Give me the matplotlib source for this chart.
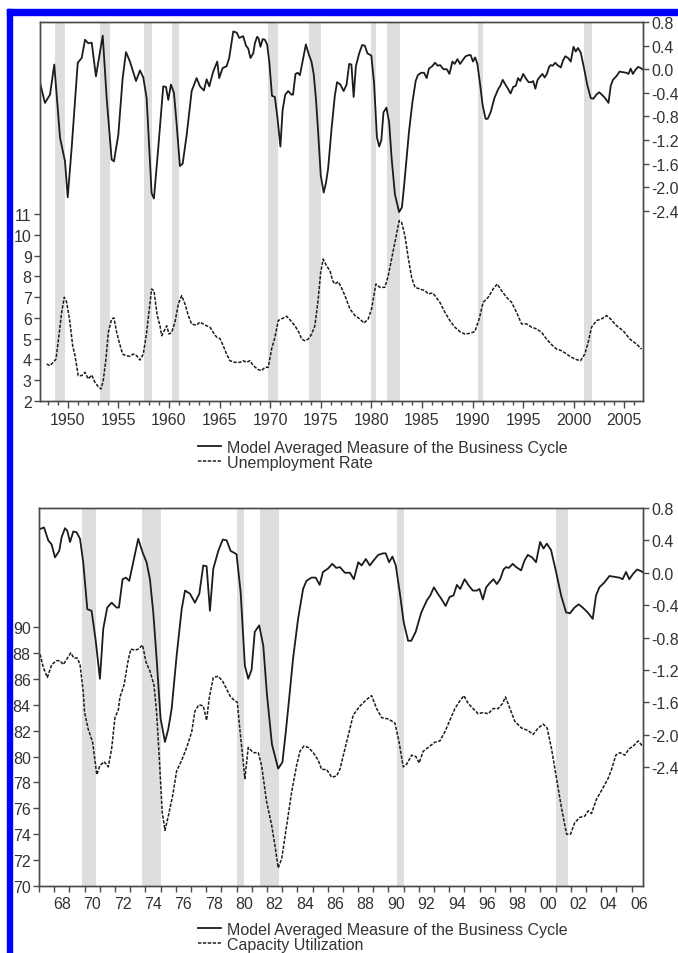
import numpy as np
import matplotlib
matplotlib.use('Agg')
import matplotlib.pyplot as plt
from matplotlib.ticker import FixedLocator, FuncFormatter
from matplotlib.patches import Rectangle

plt.rcParams['font.family'] = ['Liberation Sans', 'DejaVu Sans']
plt.rcParams['axes.unicode_minus'] = False

# recession bands (start, end) in years
rec_start = [1948.75, 1953.2, 1957.5, 1960.25, 1969.8, 1973.8, 1980.0, 1981.55, 1990.55, 2001.05]
rec_end = [1949.75, 1954.2, 1958.3, 1961.0, 1970.75, 1975.0, 1980.5, 1982.8, 1991.05, 2001.8]

# model averaged measure of the business cycle
bc_years = [1947.25, 1947.74, 1948.24, 1948.66, 1949.23, 1949.72, 1949.99, 1950.38, 1950.98, 1951.37,
            1951.70, 1952.02, 1952.36, 1952.78, 1953.08, 1953.45, 1953.84, 1954.33, 1954.56, 1954.99,
            1955.42, 1955.75, 1956.14, 1956.74, 1957.13, 1957.46, 1957.79, 1958.28, 1958.51, 1958.94,
            1959.43, 1959.70, 1959.93, 1960.19, 1960.49, 1960.76, 1961.08, 1961.35, 1961.75, 1962.24,
            1962.73, 1963.06, 1963.45, 1963.72, 1963.98, 1964.37, 1964.77, 1964.96, 1965.30, 1965.69,
            1965.95, 1966.35, 1966.69, 1966.94,
            1967.07, 1967.33, 1967.61, 1967.83, 1968.05, 1968.33, 1968.49, 1968.71, 1968.86, 1969.04,
            1969.26, 1969.47, 1969.70, 1969.91, 1970.18, 1970.46, 1970.72, 1971.01, 1971.23, 1971.49,
            1971.78, 1972.11, 1972.26, 1972.50, 1972.72, 1972.94, 1973.20, 1973.53, 1973.82, 1974.08,
            1974.30, 1974.52, 1974.74, 1975.00, 1975.29, 1975.51, 1975.73, 1976.06, 1976.39, 1976.61,
            1976.94, 1977.26, 1977.55, 1977.81, 1978.03, 1978.25, 1978.47, 1978.80, 1979.09, 1979.35,
            1979.61, 1980.00, 1980.27, 1980.55, 1980.77, 1980.99, 1981.20, 1981.49, 1981.76, 1982.00,
            1982.33, 1982.74, 1983.02, 1983.24, 1983.46, 1983.72, 1984.05, 1984.38, 1984.60, 1984.93,
            1985.21, 1985.47, 1985.69, 1986.01, 1986.30, 1986.56, 1986.80,
            1987.13, 1987.46, 1987.72, 1988.01, 1988.23, 1988.51, 1988.77, 1989.10, 1989.32, 1989.65,
            1989.82, 1990.04, 1990.26, 1990.48, 1990.74, 1991.00, 1991.29, 1991.50, 1991.79, 1992.16,
            1992.53, 1992.75, 1992.99, 1993.25, 1993.47, 1993.76, 1994.02, 1994.28, 1994.50, 1994.72,
            1995.01, 1995.29, 1995.55, 1995.82, 1995.99, 1996.21, 1996.43, 1996.65, 1996.91, 1997.13,
            1997.35, 1997.57, 1997.74, 1997.92, 1998.18, 1998.40, 1998.73, 1998.95, 1999.17, 1999.45,
            1999.71, 1999.98, 2000.20, 2000.42, 2000.70, 2001.03, 2001.36, 2001.69, 2001.95, 2002.24,
            2002.52, 2002.78, 2003.11, 2003.44, 2003.66, 2003.88, 2004.21, 2004.54, 2004.86, 2005.19,
            2005.41, 2005.63, 2005.85, 2006.07, 2006.36, 2006.62, 2006.80]
bc_values = [-0.23, -0.57, -0.43, 0.08, -1.16, -1.56, -2.17, -1.33, 0.11, 0.19,
             0.50, 0.44, 0.45, -0.12, 0.19, 0.57, -0.49, -1.53, -1.56, -1.11,
             -0.15, 0.29, 0.13, -0.20, -0.02, -0.14, -0.49, -2.10, -2.19, -1.33,
             -0.29, -0.30, -0.52, -0.26, -0.40, -0.94, -1.64, -1.60, -1.11, -0.37,
             -0.15, -0.29, -0.36, -0.17, -0.29, -0.04, 0.13, -0.15, 0.02, 0.05,
             0.19, 0.64, 0.62, 0.53,
             0.54, 0.56, 0.40, 0.35, 0.19, 0.27, 0.44, 0.55, 0.52, 0.38,
             0.51, 0.50, 0.42, 0.13, -0.45, -0.47, -0.82, -1.31, -0.69, -0.43,
             -0.37, -0.43, -0.43, -0.08, -0.06, -0.10, 0.13, 0.42, 0.25, 0.13,
             -0.08, -0.49, -1.06, -1.80, -2.09, -1.93, -1.68, -1.02, -0.45, -0.22,
             -0.26, -0.37, -0.26, 0.09, 0.08, -0.47, 0.05, 0.27, 0.41, 0.40,
             0.27, 0.23, -0.24, -1.15, -1.31, -1.20, -0.73, -0.65, -0.90, -1.50,
             -2.12, -2.42, -2.34, -1.97, -1.56, -1.06, -0.57, -0.20, -0.10, -0.06,
             -0.06, -0.15, 0.01, 0.05, 0.11, 0.06, 0.07,
             0.00, 0.00, -0.08, 0.13, 0.09, 0.17, 0.09, 0.17, 0.22, 0.24,
             0.24, 0.13, 0.20, 0.09, -0.24, -0.61, -0.84, -0.84, -0.73, -0.49,
             -0.34, -0.28, -0.18, -0.26, -0.32, -0.41, -0.30, -0.28, -0.15, -0.20,
             -0.08, -0.16, -0.22, -0.22, -0.20, -0.33, -0.18, -0.13, -0.08, -0.14,
             -0.08, 0.04, 0.07, 0.06, 0.11, 0.07, 0.03, 0.15, 0.22, 0.19,
             0.13, 0.38, 0.30, 0.36, 0.28, 0.01, -0.28, -0.49, -0.50, -0.43,
             -0.39, -0.43, -0.49, -0.57, -0.28, -0.18, -0.12, -0.04, -0.05, -0.06,
             -0.08, 0.01, -0.08, -0.02, 0.04, 0.02, 0.00]

# unemployment rate
ue_years = [1947.91, 1948.24, 1948.56, 1948.83, 1949.16, 1949.39, 1949.65, 1949.89, 1950.21, 1950.48,
            1950.71, 1951.03, 1951.37, 1951.70, 1952.02, 1952.36, 1952.68, 1953.01, 1953.28, 1953.50,
            1953.77, 1954.00, 1954.33, 1954.56, 1954.83, 1955.08, 1955.42, 1955.75, 1956.14, 1956.47,
            1956.80, 1957.13, 1957.46, 1957.79, 1958.05, 1958.28, 1958.51, 1958.84, 1959.11, 1959.28,
            1959.53, 1959.77, 1960.00, 1960.26, 1960.59, 1960.92, 1961.25, 1961.58, 1961.91, 1962.24,
            1962.73, 1963.06, 1963.40, 1963.72, 1964.05, 1964.37, 1964.71, 1965.04, 1965.36, 1965.69,
            1966.02, 1966.52, 1967.01, 1967.34, 1967.67, 1968.00, 1968.33, 1968.82, 1969.15, 1969.48,
            1969.81, 1970.14, 1970.47, 1970.80, 1971.23, 1971.63, 1972.02, 1972.45, 1972.84, 1973.11,
            1973.43, 1973.76, 1974.10, 1974.42, 1974.75, 1974.99, 1975.24, 1975.58, 1975.91, 1976.17,
            1976.40, 1976.73, 1977.00, 1977.39, 1977.88, 1978.38, 1978.87, 1979.27, 1979.69, 1980.02,
            1980.45, 1980.85, 1981.34, 1981.67, 1982.00, 1982.33, 1982.75, 1982.99, 1983.32, 1983.64,
            1983.98, 1984.31, 1984.80, 1985.30, 1985.62, 1986.05, 1986.28, 1986.77, 1987.27, 1987.76,
            1988.26, 1988.75, 1989.25, 1989.74, 1990.23, 1990.66, 1991.05, 1991.55, 1992.04, 1992.44,
            1992.87, 1993.36, 1993.86, 1994.35, 1994.85, 1995.34, 1995.84, 1996.33, 1996.83, 1997.32,
            1997.82, 1998.31, 1998.80, 1999.30, 1999.79, 2000.28, 2000.68, 2001.10, 2001.43, 2001.76,
            2002.26, 2002.75, 2003.25, 2003.64, 2004.24, 2004.89, 2005.55, 2006.21, 2006.71]
ue_values = [3.78, 3.70, 3.86, 4.02, 5.30, 6.27, 6.99, 6.75, 5.79, 4.66,
             4.18, 3.22, 3.22, 3.38, 3.06, 3.25, 2.90, 2.69, 2.58, 2.98,
             4.02, 5.30, 5.95, 6.00, 5.30, 4.82, 4.26, 4.18, 4.15, 4.26,
             4.18, 3.97, 4.26, 5.30, 6.43, 7.39, 7.31, 6.11, 5.62, 5.14,
             5.38, 5.62, 5.22, 5.30, 5.79, 6.67, 7.07, 6.67, 6.11, 5.70,
             5.65, 5.80, 5.70, 5.62, 5.55, 5.30, 5.07, 5.00, 4.66, 4.26,
             3.94, 3.86, 3.86, 3.94, 3.86, 3.94, 3.70, 3.51, 3.46, 3.62,
             3.62, 4.50, 5.07, 5.87, 5.98, 6.08, 5.87, 5.62, 5.30, 4.98,
             4.90, 4.98, 5.22, 5.62, 6.91, 8.19, 8.83, 8.50, 8.27, 7.79,
             7.63, 7.74, 7.50, 7.07, 6.43, 6.11, 5.95, 5.75, 5.95, 6.43,
             7.63, 7.47, 7.47, 8.03, 8.83, 9.64, 10.68, 10.60, 9.95, 8.91,
             7.95, 7.47, 7.39, 7.31, 7.15, 7.20, 7.07, 6.75, 6.27, 5.87,
             5.55, 5.34, 5.22, 5.26, 5.34, 5.95, 6.75, 6.99, 7.39, 7.63,
             7.31, 6.99, 6.75, 6.27, 5.71, 5.71, 5.55, 5.47, 5.30, 4.98,
             4.71, 4.50, 4.42, 4.26, 4.10, 3.99, 3.94, 4.26, 4.82, 5.55,
             5.87, 5.95, 6.11, 5.95, 5.62, 5.38, 4.98, 4.74, 4.50]

# capacity utilization
cu_years = [1967.07, 1967.28, 1967.55, 1967.84, 1968.16, 1968.38, 1968.60, 1968.82, 1969.09, 1969.30,
            1969.52, 1969.70, 1969.91, 1970.00, 1970.24, 1970.53, 1970.80, 1971.01, 1971.28, 1971.56,
            1971.78, 1972.00, 1972.22, 1972.33, 1972.59, 1972.88, 1973.05, 1973.32, 1973.53, 1973.82,
            1974.04, 1974.30, 1974.57, 1974.74, 1974.92, 1975.11, 1975.29, 1975.51, 1975.80, 1976.06,
            1976.39, 1976.72, 1977.05, 1977.26, 1977.53, 1977.81, 1978.03, 1978.20, 1978.47, 1978.80,
            1979.09, 1979.35, 1979.61, 1979.89, 1980.05, 1980.22, 1980.55, 1980.77, 1981.10, 1981.43,
            1981.65, 1981.98, 1982.31, 1982.53, 1982.74, 1982.97, 1983.30, 1983.62, 1983.95, 1984.17,
            1984.43, 1984.72, 1985.05, 1985.38, 1985.60, 1985.93, 1986.26, 1986.59, 1986.80, 1987.24,
            1987.68, 1988.12, 1988.56, 1988.89, 1989.22, 1989.55, 1989.98, 1990.42, 1990.70, 1990.97,
            1991.19, 1991.52, 1991.80, 1992.02, 1992.28, 1992.61, 1993.05, 1993.38, 1993.71, 1994.04,
            1994.37, 1994.70, 1994.96, 1995.24, 1995.57, 1995.90, 1996.23, 1996.56, 1996.89, 1997.22,
            1997.51, 1997.70, 1997.99, 1998.32, 1998.76, 1999.19, 1999.52, 1999.85, 2000.18, 2000.44,
            2000.73, 2001.06, 2001.39, 2001.72, 2001.98, 2002.26, 2002.59, 2002.92, 2003.14, 2003.36,
            2003.69, 2004.13, 2004.45, 2004.68, 2004.96, 2005.22, 2005.55, 2005.84, 2006.10, 2006.43,
            2006.72]
cu_values = [87.9, 86.9, 86.1, 87.1, 87.4, 87.4, 87.1, 87.5, 88.0, 87.6,
             87.6, 87.1, 85.0, 83.4, 82.1, 81.1, 78.6, 79.3, 79.6, 79.2,
             80.6, 83.0, 83.6, 84.6, 85.5, 87.5, 88.3, 88.2, 88.3, 88.6,
             87.3, 86.6, 85.5, 83.4, 79.8, 75.7, 74.3, 75.4, 77.0, 78.9,
             79.7, 80.7, 81.9, 83.5, 84.0, 83.9, 82.8, 84.5, 86.1, 86.2,
             85.8, 85.2, 84.6, 84.3, 84.2, 82.1, 78.3, 80.7, 80.3, 80.3,
             79.3, 76.5, 74.7, 73.1, 71.4, 72.1, 74.7, 77.2, 79.3, 80.4,
             80.8, 80.7, 80.3, 79.7, 79.0, 79.0, 78.4, 78.5, 79.0, 81.1,
             83.2, 83.9, 84.4, 84.7, 83.7, 83.0, 82.9, 82.6, 81.1, 79.2,
             79.4, 80.1, 80.0, 79.5, 80.4, 80.7, 81.1, 81.2, 81.9, 82.8,
             83.7, 84.3, 84.7, 84.1, 83.7, 83.3, 83.4, 83.3, 83.7, 83.7,
             84.1, 84.6, 83.7, 82.7, 82.2, 82.0, 81.7, 82.2, 82.5, 82.2,
             80.6, 78.3, 76.0, 74.0, 74.0, 74.9, 75.3, 75.4, 75.8, 75.6,
             76.7, 77.6, 78.3, 79.0, 80.1, 80.3, 80.1, 80.6, 80.8, 81.2,
             80.8]

bc_label = 'Model Averaged Measure of the Business Cycle'
ue_label = 'Unemployment Rate'
cu_label = 'Capacity Utilization'

top_xticks = [1950, 1955, 1960, 1965, 1970, 1975, 1980, 1985, 1990, 1995, 2000, 2005]
bot_xlabels_years = list(range(1968, 2007, 2))
ue_ticks = list(range(2, 12))
cu_ticks = list(range(70, 91, 2))
bc_ticks = [0.8, 0.4, 0.0, -0.4, -0.8, -1.2, -1.6, -2.0, -2.4]

LINE = '#1c1c1c'
SPINE = '#4a4a4a'
TXT = '#333333'
SHADE = '#dedede'
FS = 11.5

fig = plt.figure(figsize=(6.78, 9.54), dpi=100)

# blue frame of the scanned page
fig.patches.append(Rectangle((7/678, 0), 5/678, 1 - 10/954, transform=fig.transFigure,
                             color='#0000ff', zorder=0))
fig.patches.append(Rectangle((7/678, 1 - 16/954), 1, 6/954, transform=fig.transFigure,
                             color='#0000ff', zorder=0))


def style(ax, side):
	for s in ax.spines.values():
		s.set_color(SPINE)
		s.set_linewidth(1.0)
	ax.tick_params(axis='y', which='both', direction='out', length=4, width=1, color=SPINE,
	               labelsize=FS, labelcolor=TXT, pad=2, left=(side == 'left'), labelleft=(side == 'left'),
	               right=(side == 'right'), labelright=(side == 'right'))


def shade(ax):
	for a, b in zip(rec_start, rec_end):
		ax.axvspan(a, b, color=SHADE, lw=0, zorder=0)


# ---- top panel
ax1 = fig.add_axes([40/678, 1 - 402/954, 603/678, 379/954])
ax1.set_xlim(1947.25, 2006.85)
ax1.set_ylim(2, 20.24)
shade(ax1)
l_ue, = ax1.plot(ue_years, ue_values, color=LINE, lw=1.1, dashes=(2.2, 1.0))
ax1.yaxis.set_major_locator(FixedLocator(ue_ticks))
style(ax1, 'left')
ax1.xaxis.set_major_locator(FixedLocator(top_xticks))
ax1.xaxis.set_minor_locator(FixedLocator(list(range(1948, 2007))))
ax1.tick_params(axis='x', which='major', direction='out', length=5, width=1, color=SPINE,
                labelsize=FS, labelcolor=TXT, pad=3)
ax1.tick_params(axis='x', which='minor', direction='out', length=3, width=1, color=SPINE)

ax1r = ax1.twinx()
ax1r.set_ylim(-5.62, 0.80)
l_bc, = ax1r.plot(bc_years, bc_values, color=LINE, lw=1.3)
ax1r.yaxis.set_major_locator(FixedLocator(bc_ticks))
ax1r.yaxis.set_major_formatter(FuncFormatter(lambda v, p: '%.1f' % v))
style(ax1r, 'right')

ax1r.legend([l_bc, l_ue], [bc_label, ue_label], loc='upper left', frameon=False,
            bbox_to_anchor=(198/678, 1 - 441/954), bbox_transform=fig.transFigure,
            fontsize=FS, labelcolor=TXT, borderpad=0, borderaxespad=0, labelspacing=0.0,
            handlelength=1.45, handletextpad=0.35)

# ---- bottom panel
ax2 = fig.add_axes([39/678, 1 - 887/954, 604/678, 378/954])
ax2.set_xlim(1967.0, 2006.75)
ax2.set_ylim(70, 99.19)
shade(ax2)
l_cu, = ax2.plot(cu_years, cu_values, color=LINE, lw=1.1, dashes=(2.2, 1.0))
ax2.yaxis.set_major_locator(FixedLocator(cu_ticks))
style(ax2, 'left')
ax2.xaxis.set_major_locator(FixedLocator([y + 0.5 for y in bot_xlabels_years]))
ax2.xaxis.set_major_formatter(FuncFormatter(lambda v, p: '%02d' % (int(v) % 100)))
ax2.xaxis.set_minor_locator(FixedLocator(list(range(1967, 2007))))
ax2.tick_params(axis='x', which='major', length=0, labelsize=FS, labelcolor=TXT, pad=7)
ax2.tick_params(axis='x', which='minor', direction='out', length=4, width=1, color=SPINE)

ax2r = ax2.twinx()
ax2r.set_ylim(-3.87, 0.80)
l_bc2, = ax2r.plot(bc_years, bc_values, color=LINE, lw=1.3)
ax2r.yaxis.set_major_locator(FixedLocator(bc_ticks))
ax2r.yaxis.set_major_formatter(FuncFormatter(lambda v, p: '%.1f' % v))
style(ax2r, 'right')

ax2r.legend([l_bc2, l_cu], [bc_label, cu_label], loc='upper left', frameon=False,
            bbox_to_anchor=(198/678, 1 - 923/954), bbox_transform=fig.transFigure,
            fontsize=FS, labelcolor=TXT, borderpad=0, borderaxespad=0, labelspacing=0.0,
            handlelength=1.45, handletextpad=0.35)

fig.savefig('out.png', dpi=100)
